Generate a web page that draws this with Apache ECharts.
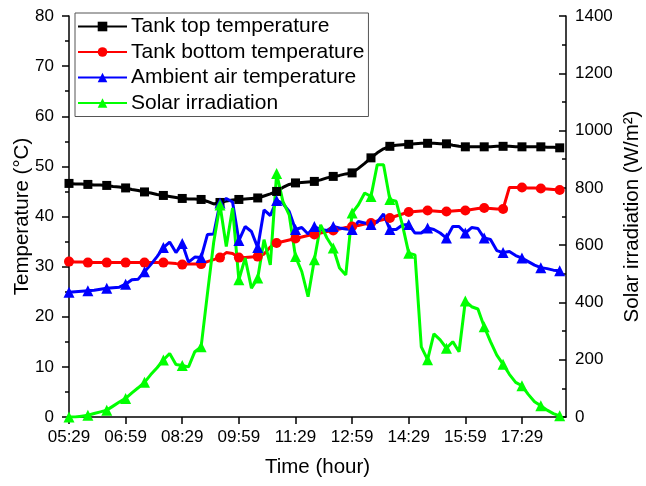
<!DOCTYPE html>
<html>
<head>
<meta charset="utf-8">
<script src="https://cdn.jsdelivr.net/npm/echarts@6/dist/echarts.min.js"></script>
<style>
  html, body { margin: 0; padding: 0; background: #fff; }
  #chart { width: 646px; height: 486px; }
</style>
</head>
<body>
<div id="chart"></div>
<script>
// minutes after 05:29, one reading every 10 min
const minutes = []
for (let m = 0; m <= 780; m += 10) minutes.push(m)

const tickLabels = ['05:29', '06:59', '08:29', '09:59', '11:29', '12:59', '14:29', '15:59', '17:29']

const tankTop = [
  46.6, 46.5, 46.5, 46.4, 46.3, 46.3, 46.2, 46.0, 45.9, 45.7,
  45.4, 45.2, 44.9, 44.7, 44.4, 44.2, 44.0, 43.8, 43.6, 43.5,
  43.5, 43.4, 43.0, 42.5, 42.8, 43.1, 43.3, 43.4, 43.5, 43.6,
  43.7, 44.1, 44.5, 45.0, 45.8, 46.4, 46.7, 46.8, 46.9, 47.0,
  47.3, 47.7, 48.0, 48.2, 48.5, 48.7, 49.6, 50.6, 51.7, 52.7,
  53.5, 54.0, 54.2, 54.3, 54.4, 54.5, 54.6, 54.6, 54.6, 54.5,
  54.5, 54.2, 54.0, 53.9, 53.9, 53.9, 53.9, 53.9, 54.0, 54.0,
  54.0, 53.9, 53.9, 53.9, 53.9, 53.9, 53.8, 53.8, 53.7
]
const tankBottom = [
  31.0, 30.9, 30.9, 30.8, 30.8, 30.8, 30.8, 30.8, 30.8, 30.8,
  30.8, 30.8, 30.8, 30.8, 30.8, 30.8, 30.7, 30.6, 30.4, 30.5,
  30.5, 30.5, 31.0, 31.4, 31.8, 32.8, 32.6, 31.8, 31.8, 31.9,
  32.0, 32.5, 33.9, 34.7, 35.0, 35.3, 35.6, 35.9, 36.2, 36.4,
  36.7, 37.0, 37.2, 37.5, 37.8, 38.0, 38.2, 38.5, 38.7, 39.1,
  39.4, 39.7, 40.1, 40.5, 40.9, 41.0, 41.1, 41.2, 41.1, 41.0,
  41.0, 41.1, 41.2, 41.2, 41.4, 41.6, 41.7, 41.6, 41.5, 41.5,
  45.8, 45.8, 45.8, 45.7, 45.7, 45.6, 45.5, 45.4, 45.3
]
const ambient = [
  24.9, 25.0, 25.1, 25.2, 25.3, 25.5, 25.7, 25.8, 25.9, 26.5,
  27.4, 27.5, 29.0, 30.4, 32.0, 33.8, 34.9, 32.8, 34.6, 30.9,
  31.9, 31.8, 36.4, 36.5, 42.7, 43.6, 42.9, 35.2, 38.0, 37.0,
  33.8, 41.3, 40.2, 43.2, 42.6, 41.0, 37.4, 37.8, 36.5, 38.0,
  37.4, 37.2, 38.0, 37.7, 37.5, 37.4, 39.0, 38.7, 38.4, 38.9,
  40.5, 37.4, 37.4, 38.3, 38.4, 36.7, 36.7, 37.7, 37.4, 36.7,
  35.7, 38.0, 38.0, 36.7, 37.8, 37.6, 35.7, 35.4, 33.2, 32.8,
  33.0, 32.2, 31.7, 31.0, 30.3, 29.8, 29.6, 29.3, 29.2
]
const solar = [
  0, 0, 3, 6, 12, 18, 24, 38, 52, 65,
  84, 102, 121, 148, 172, 199, 222, 183, 180, 175,
  228, 245, 430, 610, 740, 595, 730, 479, 555, 450,
  485, 619, 531, 850, 753, 706, 560, 508, 420, 549,
  671, 625, 590, 520, 496, 712, 741, 782, 770, 881,
  881, 759, 753, 671, 572, 566, 245, 200, 290, 269,
  240, 263, 228, 405, 385, 377, 315, 263, 216, 184,
  149, 121, 109, 79, 53, 39, 24, 12, 4
]

const font = 'Liberation Sans, Arial, sans-serif'

function points(values, symbol) {
  // markers only every 30 min, like the original plot
  return minutes.map((m, i) => ({
    value: [m, values[i]],
    symbol: m % 30 === 0 ? symbol : 'none'
  }))
}

function lineSeries(name, values, color, symbol, symbolSize, yAxisIndex) {
  return {
    name,
    type: 'line',
    yAxisIndex,
    data: points(values, symbol),
    symbol,
    symbolSize,
    showSymbol: true,
    showAllSymbol: true,
    color,
    lineStyle: { color, width: 3 },
    itemStyle: { color },
    emphasis: { disabled: true }
  }
}

const chart = echarts.init(document.getElementById('chart'))
chart.setOption({
  animation: false,
  textStyle: { fontFamily: font },
  grid: { left: 69, right: 80, top: 16, bottom: 69, containLabel: false, outerBoundsMode: 'none' },
  legend: {
    orient: 'vertical',
    left: 75,
    top: 13,
    padding: [3, 4, 3, 2],
    itemGap: 4.5,
    itemWidth: 49,
    itemHeight: 12,
    borderColor: '#555',
    borderWidth: 1,
    textStyle: { fontFamily: font, fontSize: 21, color: '#000', padding: [0, 0, 0, -1] },
    data: ['Tank top temperature', 'Tank bottom temperature', 'Ambient air temperature', 'Solar irradiation']
  },
  xAxis: {
    type: 'value',
    min: 0,
    max: 790,
    interval: 90,
    name: 'Time (hour)',
    nameLocation: 'middle',
    nameGap: 40,
    nameMoveOverlap: false,
    nameTextStyle: { fontFamily: font, fontSize: 20.5, color: '#000' },
    axisLine: { lineStyle: { color: '#000', width: 1.5 } },
    axisTick: { length: 7, lineStyle: { color: '#000', width: 1.5 } },
    axisLabel: {
      fontFamily: font,
      fontSize: 17,
      color: '#000',
      margin: 12,
      showMaxLabel: false,
      formatter: v => (v % 90 === 0 ? tickLabels[v / 90] || '' : '')
    },
    splitLine: { show: false }
  },
  yAxis: [
    {
      type: 'value',
      min: 0,
      max: 80,
      interval: 10,
      name: 'Temperature (°C)',
      nameLocation: 'middle',
      nameGap: 36,
      nameMoveOverlap: false,
      nameTextStyle: { fontFamily: font, fontSize: 20.5, color: '#000' },
      axisLine: { show: true, lineStyle: { color: '#000', width: 1.5 } },
      axisTick: { show: true, length: 7, lineStyle: { color: '#000', width: 1.5 } },
      minorTick: { show: true, splitNumber: 2, length: 4, lineStyle: { color: '#000', width: 1.5 } },
      axisLabel: { fontFamily: font, fontSize: 17, color: '#000', margin: 15 },
      splitLine: { show: false }
    },
    {
      type: 'value',
      position: 'right',
      min: 0,
      max: 1400,
      interval: 200,
      name: 'Solar irradiation (W/m²)',
      nameLocation: 'middle',
      nameGap: 56,
      nameMoveOverlap: false,
      nameTextStyle: { fontFamily: font, fontSize: 20.5, color: '#000' },
      axisLine: { show: true, lineStyle: { color: '#000', width: 1.5 } },
      axisTick: { show: true, inside: true, length: 7, lineStyle: { color: '#000', width: 1.5 } },
      minorTick: { show: true, splitNumber: 2, length: 4, lineStyle: { color: '#000', width: 1.5 } },
      axisLabel: { fontFamily: font, fontSize: 17, color: '#000', margin: 9, formatter: v => String(v) },
      splitLine: { show: false }
    }
  ],
  series: [
    lineSeries('Tank top temperature', tankTop, '#000000', 'rect', 9, 0),
    lineSeries('Tank bottom temperature', tankBottom, '#ff0000', 'circle', 10, 0),
    lineSeries('Ambient air temperature', ambient, '#0000ff', 'triangle', 11, 0),
    lineSeries('Solar irradiation', solar, '#00ff00', 'triangle', 11, 1)
  ]
})
</script>
</body>
</html>
